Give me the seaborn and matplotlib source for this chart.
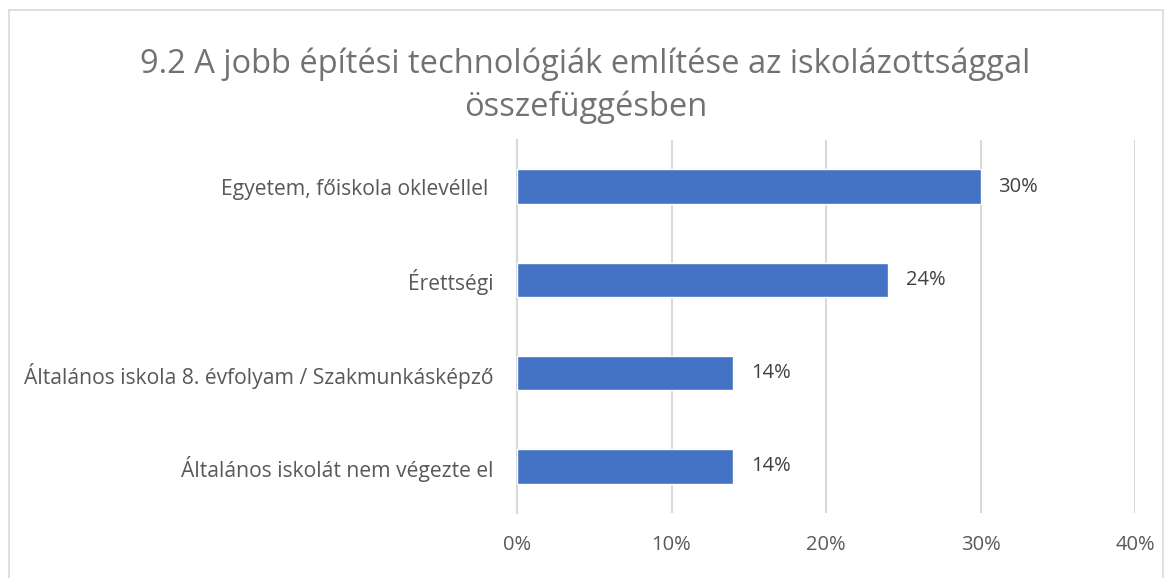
import matplotlib

matplotlib.use("Agg")
import matplotlib.pyplot as plt
import pandas as pd
import seaborn as sns
from matplotlib.patches import Rectangle
from matplotlib.ticker import PercentFormatter

categories = [
    "Egyetem, főiskola oklevéllel ",
    "Érettségi",
    "Általános iskola 8. évfolyam / Szakmunkásképző",
    "Általános iskolát nem végezte el",
]
shares = [30, 24, 14, 14]
value_labels = ["30%", "24%", "14%", "14%"]
x_ticks = [0, 10, 20, 30, 40]

title = "9.2 A jobb építési technológiák említése az iskolázottsággal\nösszefüggésben"

bar_color = "#4472C4"
text_color = "#595959"
grid_color = "#D9D9D9"

frame = pd.DataFrame({"category": categories, "share": shares})

sns.set_theme(style="white")
plt.rcParams["font.family"] = ["Open Sans", "DejaVu Sans"]

fig = plt.figure(figsize=(11.73, 5.78), dpi=100)
ax = fig.add_axes([0.4408, 0.1125, 0.5268, 0.6455])

sns.barplot(data=frame, x="share", y="category", color=bar_color, width=0.37,
            saturation=1, ax=ax, zorder=3)

ax.set_xlim(0, 40)
ax.set_xticks(x_ticks)
ax.xaxis.set_major_formatter(PercentFormatter(decimals=0))
ax.grid(axis="x", color=grid_color, linewidth=1.5, zorder=0)
ax.grid(axis="y", visible=False)
for side in ["top", "right", "bottom"]:
    ax.spines[side].set_visible(False)
ax.spines["left"].set_color(grid_color)
ax.spines["left"].set_linewidth(1.5)
ax.set_xlabel("")
ax.set_ylabel("")
ax.tick_params(axis="x", colors=text_color, labelsize=14.5, length=0, pad=16)
ax.tick_params(axis="y", colors=text_color, labelsize=15.2, length=0, pad=17)

for patch, label in zip(ax.patches, value_labels):
    ax.annotate(label, (patch.get_width(), patch.get_y() + patch.get_height() / 2),
                xytext=(18, 0), textcoords="offset pixels",
                va="center", ha="left", fontsize=14.5, color="#404040")

fig.text(0.499, 0.852, title, ha="center", va="center", fontsize=23.5,
         color="#757171", linespacing=1.35)

fig.patches.append(Rectangle((9 / 1173, -0.1), 1154 / 1173, 1.1 - 10 / 578,
                             transform=fig.transFigure, fill=False,
                             edgecolor="#D9D9D9", linewidth=1.2))

fig.savefig("out.png", dpi=100)
